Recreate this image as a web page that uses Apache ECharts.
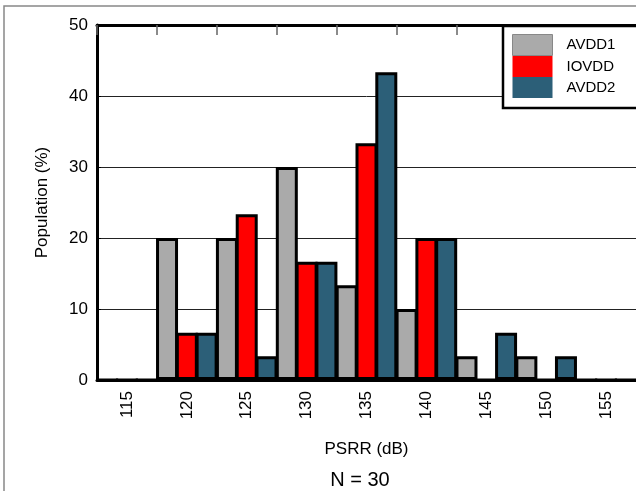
<!DOCTYPE html>
<html>
<head>
<meta charset="utf-8">
<script src="https://cdn.jsdelivr.net/npm/echarts@6/dist/echarts.min.js"></script>
<style>html,body{margin:0;padding:0;background:#fff}#c{width:636px;height:491px}</style>
</head>
<body>
<div id="c"></div>
<script>
const categories = ['115','120','125','130','135','140','145','150','155'];
const avdd1 = [0, 20, 20, 30, 13.33, 10, 3.33, 3.33, 0];
const iovdd = [0, 6.67, 23.33, 16.67, 33.33, 20, 0, 0, 0];
const avdd2 = [0, 6.67, 3.33, 16.67, 43.33, 20, 6.67, 3.33, 0];
const seriesNames = ['AVDD1','IOVDD','AVDD2'];
const colors = ['#aaaaaa','#ff0000','#2c5f78'];
const yTicks = [0,10,20,30,40,50];

const FONT = 'Liberation Sans';
const chart = echarts.init(document.getElementById('c'));
const mk = (name, data, color) => ({
  name, type: 'bar', data, xAxisIndex: 0,
  barWidth: 22, barGap: '-10%',
  itemStyle: {color, borderColor: '#000', borderWidth: 3},
  emphasis: {disabled: true}
});
chart.setOption({
  animation: false,
  textStyle: {fontFamily: FONT},
  grid: {left: 97, top: 25, width: 540, height: 355},
  legend: {
    orient: 'vertical', left: 503, top: 26,
    padding: [8, 60, 10, 9], itemGap: 0, itemWidth: 40, itemHeight: 21,
    backgroundColor: '#fff', borderColor: '#000', borderWidth: 2.5, borderRadius: 0,
    icon: 'rect',
    textStyle: {fontFamily: FONT, fontSize: 15, color: '#000', padding: [0,0,0,9]},
    data: seriesNames.map((n, i) => ({name: n, itemStyle: {borderWidth: i === 0 ? 1 : 0, borderColor: '#888'}}))
  },
  graphic: [
    {type: 'rect', shape: {x: 4, y: 6, width: 700, height: 600}, style: {fill: 'none', stroke: '#888', lineWidth: 1.5}, silent: true, z: -10},
    {type: 'text', x: 360, y: 470, style: {text: 'N = 30', fontFamily: FONT, fontSize: 20, fill: '#000', textAlign: 'center', textVerticalAlign: 'top'}, silent: true}
  ],
  xAxis: [{
    type: 'category', data: categories, position: 'bottom',
    axisLine: {lineStyle: {color: '#000', width: 3}},
    axisTick: {show: false},
    axisLabel: {rotate: 90, fontSize: 17, color: '#000', margin: 11, fontFamily: FONT},
    name: 'PSRR (dB)', nameLocation: 'middle', nameGap: 61,
    nameTextStyle: {fontSize: 17, color: '#000', fontFamily: FONT}
  }, {
    type: 'category', data: categories, position: 'top',
    axisLine: {lineStyle: {color: '#000', width: 3}},
    axisTick: {show: true, inside: true, length: 10, lineStyle: {color: '#666', width: 1.5}},
    axisLabel: {show: false}
  }],
  yAxis: {
    type: 'value', min: 0, max: 50, interval: 10,
    axisLine: {show: true, lineStyle: {color: '#000', width: 3}},
    axisTick: {show: true, inside: true, length: 4, lineStyle: {color: '#000'}},
    splitLine: {show: true, lineStyle: {color: '#222', width: 1}},
    axisLabel: {fontSize: 17, color: '#000', margin: 9, fontFamily: FONT,
      formatter: v => yTicks.includes(v) ? String(v) : ''},
    name: 'Population (%)', nameLocation: 'middle', nameGap: 46,
    nameTextStyle: {fontSize: 17, color: '#000', fontFamily: FONT}
  },
  series: [mk(seriesNames[0], avdd1, colors[0]), mk(seriesNames[1], iovdd, colors[1]), mk(seriesNames[2], avdd2, colors[2])]
});
</script>
</body>
</html>
